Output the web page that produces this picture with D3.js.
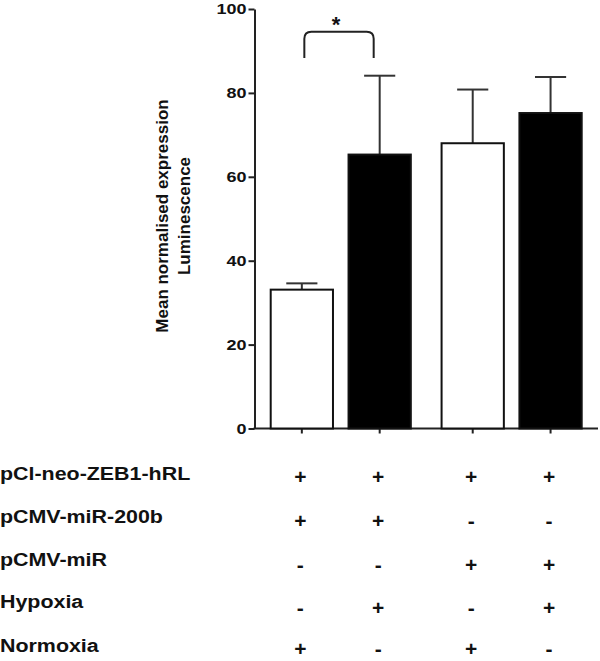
<!DOCTYPE html>
<html>
<head>
<meta charset="utf-8">
<script src="https://cdn.jsdelivr.net/npm/d3@7"></script>
<style>
  body { margin: 0; background: #fff; }
  text { font-family: "Liberation Sans", Arial, sans-serif; font-weight: bold; fill: #111; }
</style>
</head>
<body>
<div id="main"></div>
<script>
// data
const groups = ["pCMV-miR-200b", "pCMV-miR"];
const oxygen = ["Normoxia", "Hypoxia"];
const means = [33.1, 65.3, 68.0, 75.2];
const errTop = [34.6, 84.1, 80.8, 83.8];
const yTicks = [0, 20, 40, 60, 80, 100];
const rowLabels = ["pCl-neo-ZEB1-hRL", "pCMV-miR-200b", "pCMV-miR", "Hypoxia", "Normoxia"];
const signs = [
  ["+", "+", "+", "+"],
  ["+", "+", "-", "-"],
  ["-", "-", "+", "+"],
  ["-", "+", "-", "+"],
  ["+", "-", "+", "-"]
];
const sigPair = [0, 1];
const sigLevel = { top: 94.6, leg: 88.3, label: "*" };
const yTitle = ["Mean normalised expression", "Luminescence"];

const W = 600, H = 661;
const axisX = 254.5;

const svg = d3.select("#main").append("svg")
  .attr("width", W).attr("height", H);

const y = d3.scaleLinear().domain([0, 100]).range([428.5, 9]);

const x0 = d3.scaleBand().domain(groups).range([270.7, 581.7])
  .paddingInner(0.18).paddingOuter(0);
const x1 = d3.scaleBand().domain(oxygen).range([0, x0.bandwidth()])
  .paddingInner(0.2).paddingOuter(0);

const bars = means.map((m, i) => {
  const g = groups[Math.floor(i / 2)];
  const o = oxygen[i % 2];
  const left = x0(g) + x1(o);
  return { mean: m, err: errTop[i], oxy: o, left: left, cx: left + x1.bandwidth() / 2 };
});

// y axis
const yAxis = d3.axisLeft(y).tickValues(yTicks).tickSize(6).tickPadding(2).tickSizeOuter(0);
const gy = svg.append("g").attr("transform", `translate(${axisX},0)`).call(yAxis);
gy.select(".domain").attr("stroke", "#222").attr("stroke-width", 2);
gy.selectAll(".tick line").attr("stroke", "#222").attr("stroke-width", 2);
gy.selectAll(".tick text")
  .attr("font-size", 15)
  .attr("font-family", "'Liberation Sans', Arial, sans-serif")
  .attr("font-weight", "bold")
  .attr("fill", "#111")
  .attr("x", -8 / 1.2)
  .attr("transform", "scale(1.2,1)");

// x axis line with ticks at the bar centres
const xAxisG = svg.append("g");
xAxisG.append("line")
  .attr("x1", axisX - 1).attr("x2", 598)
  .attr("y1", y(0)).attr("y2", y(0))
  .attr("stroke", "#222").attr("stroke-width", 2);
xAxisG.selectAll("line.tk").data(bars).join("line")
  .attr("class", "tk")
  .attr("x1", d => d.cx).attr("x2", d => d.cx)
  .attr("y1", y(0)).attr("y2", y(0) + 5)
  .attr("stroke", "#222").attr("stroke-width", 2);

// error bars (upper only)
const eb = svg.append("g").attr("stroke", "#333").attr("stroke-width", 2);
eb.selectAll("line.v").data(bars).join("line")
  .attr("class", "v")
  .attr("x1", d => d.cx).attr("x2", d => d.cx)
  .attr("y1", d => y(d.mean)).attr("y2", d => y(d.err));
eb.selectAll("line.cap").data(bars).join("line")
  .attr("class", "cap")
  .attr("x1", d => d.cx - x1.bandwidth() / 4).attr("x2", d => d.cx + x1.bandwidth() / 4)
  .attr("y1", d => y(d.err)).attr("y2", d => y(d.err));

// bars
svg.append("g").selectAll("rect").data(bars).join("rect")
  .attr("x", d => d.left)
  .attr("y", d => y(d.mean))
  .attr("width", x1.bandwidth())
  .attr("height", d => y(0) - y(d.mean))
  .attr("fill", d => d.oxy === "Hypoxia" ? "#000" : "#fff")
  .attr("stroke", "#111")
  .attr("stroke-width", 2);

// significance bracket
const bl = bars[sigPair[0]].cx + 2.5, br = bars[sigPair[1]].cx - 6;
const yt = y(sigLevel.top), yl = y(sigLevel.leg), r = 7;
svg.append("path")
  .attr("d", `M${bl},${yl} L${bl},${yt + r} Q${bl},${yt} ${bl + r},${yt} L${br - r},${yt} Q${br},${yt} ${br},${yt + r} L${br},${yl}`)
  .attr("fill", "none").attr("stroke", "#222").attr("stroke-width", 2);
svg.append("text")
  .attr("x", (bl + br) / 2 - 3).attr("y", yt)
  .attr("text-anchor", "middle")
  .attr("font-size", 22)
  .text(sigLevel.label);

// y title
const yt0 = svg.append("g").attr("transform", "translate(0,216)");
yt0.selectAll("text").data(yTitle).join("text")
  .attr("transform", (d, i) => `translate(${167.5 + i * 22.5},0) rotate(-90)`)
  .attr("text-anchor", "middle")
  .attr("font-size", 17)
  .text(d => d);

// condition table
const rowY = [474, 517, 560, 602, 646];
const signY = [476, 520, 564, 607, 648];
svg.append("g").selectAll("text").data(rowLabels).join("text")
  .attr("transform", (d, i) => `translate(0,${rowY[i]}) scale(1.19,1)`)
  .attr("dominant-baseline", "central")
  .attr("font-size", 18)
  .text(d => d);

const sg = svg.append("g");
signs.forEach((row, r) => {
  sg.selectAll(null).data(row).join("text")
    .attr("x", (d, i) => bars[i].cx - 1.5)
    .attr("y", signY[r])
    .attr("text-anchor", "middle")
    .attr("dominant-baseline", "central")
    .attr("font-size", 21)
    .text(d => d);
});
</script>
</body>
</html>
